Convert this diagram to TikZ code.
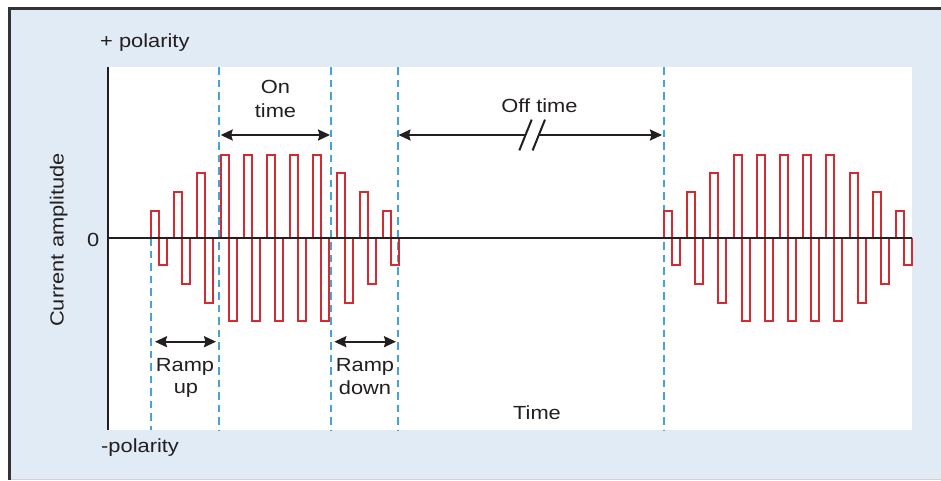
\documentclass[tikz,border=0pt]{standalone}
\usepackage{fontspec}
\setmainfont{Liberation Sans}[FakeStretch=1.15]
\usetikzlibrary{arrows.meta}
\definecolor{bgblue}{HTML}{E1EBF5}
\definecolor{framegray}{HTML}{333333}
\definecolor{pulsered}{HTML}{D42B33}
\definecolor{dashblue}{HTML}{45A3DA}
\definecolor{ink}{HTML}{231F20}
\begin{document}
\begin{tikzpicture}[x=1pt,y=-1pt,
  lbl/.style={font=\fontsize{19}{22}\selectfont, text=ink, inner sep=0pt},
  pulse/.style={draw=pulsered, line width=2pt, line join=miter},
  marker/.style={draw=dashblue, line width=2pt, dash pattern=on 7.5pt off 5pt},
  axisline/.style={draw=ink, line width=2pt},
  tipA/.tip={Stealth[length=12pt,width=11pt,inset=1.5pt]},
  span/.style={draw=ink, line width=2pt, tipA-tipA},
  brk/.style={draw=ink, line width=2pt}]

\useasboundingbox (0,0) rectangle (941,480);
\fill[white] (0,0) rectangle (941,480);
\fill[bgblue] (9,9) rectangle (941,480);
\draw[gray!35, line width=1pt] (9,479.3) -- (941,479.3);
\draw[framegray, line width=3pt] (9.3,480) -- (9.3,8.7) -- (941,8.7);
\fill[white] (108,67) rectangle (912,430);

% marker lines
\coordinate (m0t) at (151,238);  \coordinate (m0b) at (151,430);
\coordinate (m1t) at (219,67);   \coordinate (m1b) at (219,430);
\coordinate (m2t) at (331,67);   \coordinate (m2b) at (331,430);
\coordinate (m3t) at (398,67);   \coordinate (m3b) at (398,430);
\coordinate (m4t) at (664,67);   \coordinate (m4b) at (664,430);
\foreach \i in {0,...,4} { \draw[marker] (m\i t) -- (m\i b); }

% pulse bursts
\foreach \s in {151,664} {
  \foreach \a [count=\k from 0] in {27,46,65,83,83,83,83,83,65,46,27} {
    \pgfmathsetmacro\xa{round(\s+23.2*\k)}
    \draw[pulse] (\xa,238) -- (\xa,238-\a) -- (\xa+8,238-\a) -- (\xa+8,238+\a) -- (\xa+16,238+\a) -- (\xa+16,238);
  }
}

% axes
\coordinate (ytop) at (108,67);  \coordinate (ybot) at (108,430);
\coordinate (z0) at (108,238);   \coordinate (z1) at (912,238);
\draw[axisline] (ytop) -- (ybot);
\draw[axisline] (z0) -- (z1);

% labels
\node[lbl, anchor=base west] (pluspol) at (100,47) {+ polarity};
\node[lbl, anchor=base west] (minuspol) at (101,452.5) {-polarity};
\node[lbl, anchor=base] (zero) at (93.3,246) {0};
\node[lbl, rotate=90, anchor=base] (curamp) at (63.5,240) {Current amplitude};
\node[lbl, anchor=base] (on1) at (275.5,93.5) {On};
\node[lbl, anchor=base] (on2) at (275.5,117.5) {time};
\node[lbl, anchor=base] (off) at (539.5,112.5) {Off time};
\node[lbl, anchor=base] (ru1) at (185,371.7) {Ramp};
\node[lbl, anchor=base] (ru2) at (186,393) {up};
\node[lbl, anchor=base] (rd1) at (365,371.7) {Ramp};
\node[lbl, anchor=base] (rd2) at (365,394) {down};
\node[lbl, anchor=base] (time) at (537,419.5) {Time};

% span arrows
\coordinate (on-l) at (220.7,135);  \coordinate (on-r) at (330,135);
\draw[span] (on-l) -- (on-r);
\coordinate (off-l) at (398.5,135); \coordinate (off-r) at (662,135);
\coordinate (brk-l) at (525.5,135); \coordinate (brk-r) at (538.8,135);
\draw[brk, tipA-] (off-l) -- (brk-l);
\draw[brk, -tipA] (brk-r) -- (off-r);
\draw[brk] ([shift={(-6.2,15.4)}]brk-l) -- ([shift={(6.2,-15.4)}]brk-l);
\draw[brk] ([shift={(-6.2,15.4)}]brk-r) -- ([shift={(6.2,-15.4)}]brk-r);
\coordinate (ru-l) at (155,341.7);  \coordinate (ru-r) at (216,341.7);
\draw[span] (ru-l) -- (ru-r);
\coordinate (rd-l) at (334.3,341.7); \coordinate (rd-r) at (396,341.7);
\draw[span] (rd-l) -- (rd-r);
\end{tikzpicture}
\end{document}
